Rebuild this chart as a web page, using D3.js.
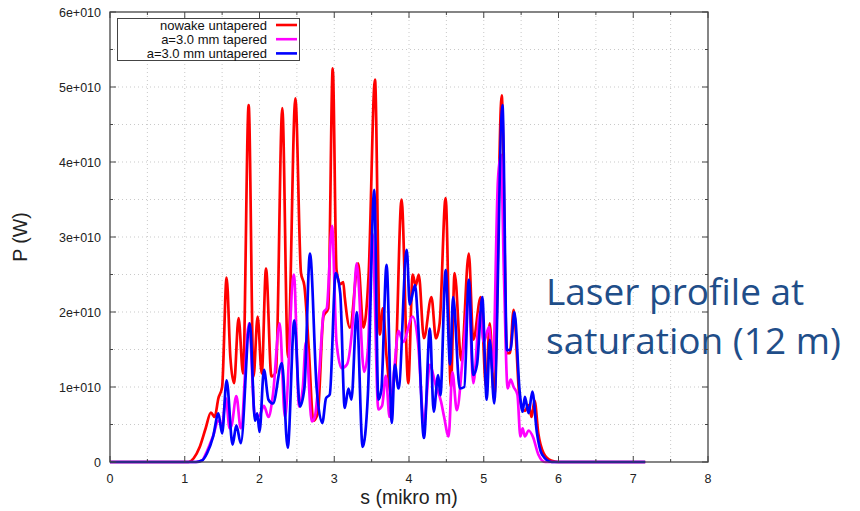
<!DOCTYPE html>
<html>
<head>
<meta charset="utf-8">
<script src="https://cdn.jsdelivr.net/npm/d3@7"></script>
<style>
  body { margin: 0; background: #fff; }
  svg { display: block; }
</style>
</head>
<body>
<div id="chart"></div>
<script>
// P in units of 1e10 W, s in micrometres
var sRed = [0, 1.05, 1.12, 1.2, 1.28, 1.35, 1.4, 1.45, 1.5, 1.56, 1.61, 1.66, 1.72, 1.78, 1.855, 1.92, 1.975, 2.03, 2.087, 2.16, 2.22, 2.305, 2.38, 2.48, 2.555, 2.6, 2.66, 2.72, 2.78, 2.855, 2.92, 2.98, 3.03, 3.08, 3.12, 3.14, 3.21, 3.32, 3.39, 3.46, 3.545, 3.61, 3.65, 3.7, 3.76, 3.82, 3.9, 3.99, 4.05, 4.09, 4.13, 4.2, 4.3, 4.36, 4.41, 4.49, 4.56, 4.61, 4.7, 4.8, 4.86, 4.96, 5.03, 5.08, 5.14, 5.24, 5.31, 5.35, 5.4, 5.48, 5.55, 5.6, 5.64, 5.68, 5.73, 5.8, 5.9, 6.0, 7.16];
var pRed = [0, 0, 0.05, 0.2, 0.45, 0.66, 0.6, 0.85, 1.0, 2.46, 1.4, 1.05, 1.92, 1.18, 4.76, 1.14, 1.94, 1.18, 2.58, 1.14, 1.2, 4.72, 1.4, 4.85, 2.52, 2.35, 1.5, 0.55, 0.65, 1.94, 2.05, 5.25, 2.56, 2.37, 2.4, 2.2, 1.79, 2.65, 1.79, 2.5, 5.1, 1.7, 2.05, 1.4, 0.9, 1.3, 3.5, 1.05, 2.5, 2.35, 2.5, 1.65, 2.2, 1.65, 1.85, 3.52, 1.0, 2.52, 1.35, 2.78, 1.63, 2.2, 1.0, 1.85, 0.85, 4.89, 1.45, 1.45, 2.03, 0.85, 0.68, 0.76, 0.6, 0.82, 0.38, 0.12, 0.02, 0, 0];

var sMag = [0, 1.15, 1.23, 1.3, 1.38, 1.45, 1.5, 1.55, 1.6, 1.63, 1.69, 1.75, 1.86, 1.94, 2.0, 2.06, 2.12, 2.18, 2.27, 2.34, 2.46, 2.53, 2.58, 2.62, 2.7, 2.74, 2.8, 2.86, 2.9, 2.97, 3.03, 3.1, 3.17, 3.25, 3.3, 3.4, 3.45, 3.51, 3.59, 3.64, 3.69, 3.74, 3.8, 3.86, 3.92, 4.05, 4.12, 4.2, 4.28, 4.35, 4.43, 4.47, 4.53, 4.58, 4.64, 4.72, 4.8, 4.86, 4.95, 5.0, 5.07, 5.12, 5.19, 5.23, 5.27, 5.32, 5.36, 5.4, 5.45, 5.49, 5.52, 5.55, 5.6, 5.66, 5.73, 5.82, 7.16];
var pMag = [0, 0, 0.02, 0.15, 0.35, 0.55, 0.5, 0.85, 0.45, 0.5, 0.88, 0.45, 1.85, 0.6, 0.62, 0.75, 0.6, 0.9, 1.85, 0.6, 2.5, 0.74, 1.0, 1.6, 0.54, 0.6, 1.2, 2.0, 2.05, 3.15, 1.6, 1.25, 1.3, 1.9, 2.65, 1.2, 1.5, 3.05, 0.7, 0.75, 1.15, 0.6, 1.2, 1.75, 1.6, 1.94, 1.6, 0.52, 1.3, 1.05, 0.8, 0.6, 0.34, 1.2, 0.69, 1.4, 2.2, 1.05, 2.0, 1.6, 1.8, 1.2, 3.76, 4.1, 2.5, 0.98, 1.1, 1.0, 0.9, 0.34, 0.45, 0.34, 0.42, 0.33, 0.1, 0, 0];

var sBlue = [0, 1.15, 1.23, 1.3, 1.38, 1.45, 1.5, 1.56, 1.64, 1.69, 1.75, 1.87, 1.94, 1.97, 2.0, 2.06, 2.12, 2.18, 2.3, 2.377, 2.466, 2.54, 2.6, 2.675, 2.765, 2.84, 2.89, 2.94, 3.02, 3.08, 3.14, 3.19, 3.23, 3.3, 3.38, 3.45, 3.535, 3.59, 3.63, 3.7, 3.77, 3.81, 3.86, 3.97, 4.01, 4.08, 4.12, 4.2, 4.28, 4.33, 4.39, 4.42, 4.49, 4.55, 4.59, 4.68, 4.74, 4.8, 4.86, 4.91, 4.98, 5.04, 5.08, 5.14, 5.25, 5.31, 5.36, 5.41, 5.48, 5.52, 5.55, 5.6, 5.65, 5.71, 5.78, 5.91, 7.16];
var pBlue = [0, 0, 0.02, 0.12, 0.34, 0.65, 0.38, 1.09, 0.23, 0.49, 0.25, 1.85, 0.55, 0.65, 0.4, 1.23, 0.83, 0.78, 1.32, 0.19, 1.89, 0.74, 0.98, 2.78, 0.98, 0.52, 0.85, 0.9, 2.52, 2.25, 0.72, 0.98, 0.83, 2.0, 0.2, 0.9, 3.63, 0.83, 0.96, 2.63, 0.52, 1.3, 0.98, 2.83, 2.1, 2.36, 1.87, 0.32, 1.78, 0.67, 1.16, 0.89, 2.56, 1.3, 2.2, 0.98, 1.0, 2.43, 1.16, 1.3, 2.2, 0.83, 1.63, 0.78, 4.76, 1.49, 1.5, 2.0, 0.94, 0.67, 0.87, 0.65, 0.94, 0.4, 0.1, 0, 0];

var seriesNames = ["nowake untapered", "a=3.0 mm tapered", "a=3.0 mm untapered"];
var seriesColors = ["#ff0000", "#ff00ff", "#0000ff"];

var xTicks = [0, 1, 2, 3, 4, 5, 6, 7, 8];
var yTicks = [0, 1, 2, 3, 4, 5, 6];
var yTickLabels = ["0", "1e+010", "2e+010", "3e+010", "4e+010", "5e+010", "6e+010"];

var W = 860, H = 511;
var plot = {left: 110, right: 708, top: 12, bottom: 462};

var svg = d3.select("#chart").append("svg")
  .attr("width", W).attr("height", H);

var x = d3.scaleLinear().domain([0, 8]).range([plot.left, plot.right]);
var y = d3.scaleLinear().domain([0, 6]).range([plot.bottom, plot.top]);

// dotted grid every half step
var gx = d3.range(0.5, 8, 0.5), gy = d3.range(0.5, 6, 0.5);
svg.append("g").selectAll("line").data(gx).enter().append("line")
  .attr("x1", d => x(d)).attr("x2", d => x(d))
  .attr("y1", plot.top).attr("y2", plot.bottom)
  .attr("stroke", "#bbb").attr("stroke-width", 0.8).attr("stroke-dasharray", "1,3");
svg.append("g").selectAll("line").data(gy).enter().append("line")
  .attr("x1", plot.left).attr("x2", plot.right)
  .attr("y1", d => y(d)).attr("y2", d => y(d))
  .attr("stroke", "#bbb").attr("stroke-width", 0.8).attr("stroke-dasharray", "1,3");

// text on the slide
var note = svg.append("text")
  .attr("x", 547).attr("fill", "#1f4e89")
  .style("font-family", "'Open Sans', 'Noto Sans', sans-serif")
  .style("font-size", "37px");
note.append("tspan").attr("x", 546).attr("y", 305).text("Laser profile at");
note.append("tspan").attr("x", 546).attr("y", 354).text("saturation (12 m)");

// curves
var line = d3.line().curve(d3.curveMonotoneX);
var data = [[sRed, pRed], [sMag, pMag], [sBlue, pBlue]];
data.forEach(function(d, i) {
  var pts = d[0].map((s, k) => [x(s), y(d[1][k])]);
  svg.append("path")
    .attr("d", line(pts))
    .attr("fill", "none")
    .attr("stroke", seriesColors[i])
    .attr("stroke-width", 2.7)
    .attr("stroke-linejoin", "round");
});

// frame and ticks
var axisCol = "#444";
svg.append("rect")
  .attr("x", plot.left).attr("y", plot.top)
  .attr("width", plot.right - plot.left).attr("height", plot.bottom - plot.top)
  .attr("fill", "none").attr("stroke", axisCol).attr("stroke-width", 1.3);

var tk = svg.append("g").attr("stroke", axisCol).attr("stroke-width", 1);
d3.range(0, 8.01, 0.5).forEach(function(v) {
  var len = (v % 1 === 0) ? 6 : 3;
  tk.append("line").attr("x1", x(v)).attr("x2", x(v)).attr("y1", plot.bottom).attr("y2", plot.bottom - len);
  tk.append("line").attr("x1", x(v)).attr("x2", x(v)).attr("y1", plot.top).attr("y2", plot.top + len);
});
d3.range(0, 6.01, 0.5).forEach(function(v) {
  var len = (v % 1 === 0) ? 6 : 3;
  tk.append("line").attr("y1", y(v)).attr("y2", y(v)).attr("x1", plot.left).attr("x2", plot.left + len);
  tk.append("line").attr("y1", y(v)).attr("y2", y(v)).attr("x1", plot.right).attr("x2", plot.right - len);
});

var font = "'Liberation Sans', Arial, sans-serif";
svg.append("g").selectAll("text").data(xTicks).enter().append("text")
  .attr("x", d => x(d)).attr("y", 483)
  .attr("text-anchor", "middle").attr("fill", "#222")
  .style("font-family", font).style("font-size", "12.5px")
  .text(d => d);
svg.append("g").selectAll("text").data(yTicks).enter().append("text")
  .attr("x", 101).attr("y", d => y(d) + 4.5)
  .attr("text-anchor", "end").attr("fill", "#222")
  .style("font-family", font).style("font-size", "12.5px")
  .text((d, i) => yTickLabels[i]);

svg.append("text")
  .attr("x", (plot.left + plot.right) / 2).attr("y", 504)
  .attr("text-anchor", "middle").attr("fill", "#222")
  .style("font-family", font).style("font-size", "19.5px")
  .text("s (mikro m)");
svg.append("text")
  .attr("transform", "translate(27,237) rotate(-90)")
  .attr("text-anchor", "middle").attr("fill", "#222")
  .style("font-family", font).style("font-size", "19.5px")
  .text("P (W)");

// legend
var lg = svg.append("g");
lg.append("rect").attr("x", 117.5).attr("y", 18.5).attr("width", 182).attr("height", 42)
  .attr("fill", "#fff").attr("stroke", axisCol).attr("stroke-width", 1);
seriesNames.forEach(function(n, i) {
  var cy = 25 + i * 14.2;
  lg.append("text").attr("x", 267).attr("y", cy + 4.5)
    .attr("text-anchor", "end").attr("fill", "#111")
    .style("font-family", font).style("font-size", "13px")
    .text(n);
  lg.append("line").attr("x1", 276).attr("x2", 297).attr("y1", cy).attr("y2", cy)
    .attr("stroke", seriesColors[i]).attr("stroke-width", 2.6);
});
</script>
</body>
</html>
